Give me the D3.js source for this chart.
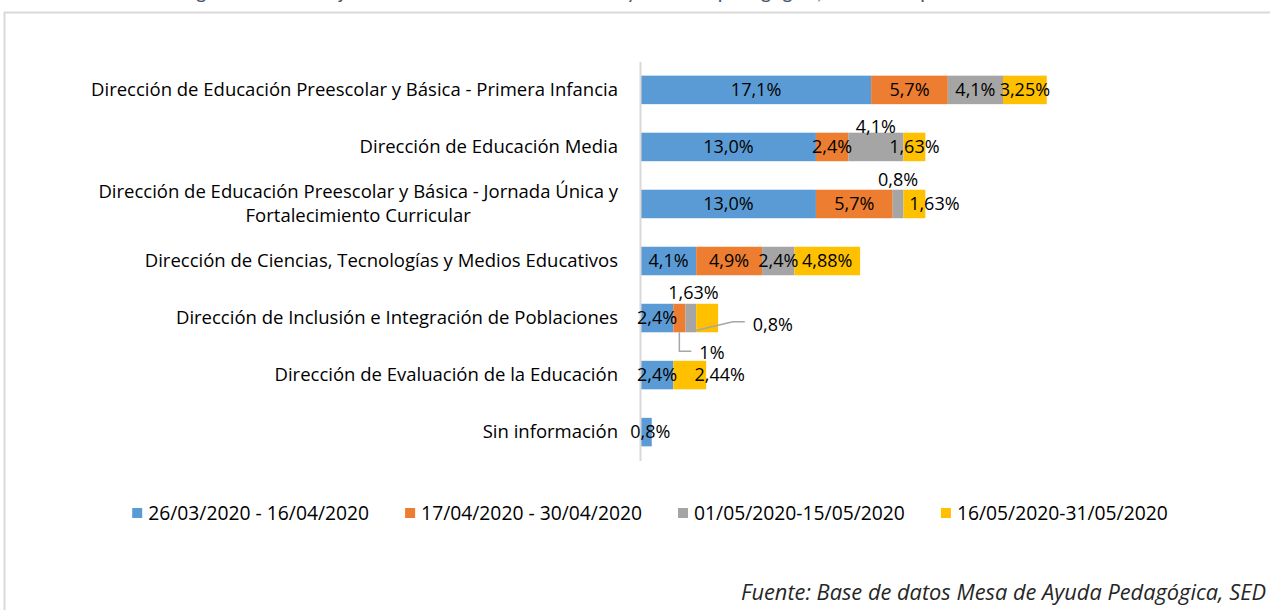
<!DOCTYPE html>
<html>
<head>
<meta charset="utf-8">
<script src="https://cdn.jsdelivr.net/npm/d3@7"></script>
<style>
  body { margin: 0; background: #fff; }
  svg { display: block; font-family: "Open Sans", Lato, sans-serif; }
</style>
</head>
<body>
<div id="chart"></div>
<script>
// categories, top to bottom
const categories = [
  "Dirección de Educación Preescolar y Básica - Primera Infancia",
  "Dirección de Educación Media",
  "Dirección de Educación Preescolar y Básica - Jornada Única y Fortalecimiento Curricular",
  "Dirección de Ciencias, Tecnologías y Medios Educativos",
  "Dirección de Inclusión e Integración de Poblaciones",
  "Dirección de Evaluación de la Educación",
  "Sin información"
];

const seriesNames = [
  "26/03/2020 - 16/04/2020",
  "17/04/2020 - 30/04/2020",
  "01/05/2020-15/05/2020",
  "16/05/2020-31/05/2020"
];

// values in %
const periodo1 = [17.1, 13.0, 13.0, 4.1, 2.4, 2.4, 0.8];
const periodo2 = [5.7, 2.4, 5.7, 4.9, 0.9, 0, 0];
const periodo3 = [4.1, 4.1, 0.8, 2.4, 0.8, 0, 0];
const periodo4 = [3.25, 1.63, 1.63, 4.88, 1.63, 2.44, 0];

// data label texts as printed on the chart
const etiquetas1 = ["17,1%", "13,0%", "13,0%", "4,1%", "2,4%", "2,4%", "0,8%"];
const etiquetas2 = ["5,7%", "2,4%", "5,7%", "4,9%", "1%", "", ""];
const etiquetas3 = ["4,1%", "4,1%", "0,8%", "2,4%", "0,8%", "", ""];
const etiquetas4 = ["3,25%", "1,63%", "1,63%", "4,88%", "1,63%", "2,44%", ""];

const fuente = "Fuente: Base de datos Mesa de Ayuda Pedagógica, SED";
const titulo = "Figura 5. Porcentaje de consultas a la mesa técnica y asesoría pedagógica, durante el periodo";

const colors = ["#5B9BD5", "#ED7D31", "#A5A5A5", "#FFC000"];
const allValues = [periodo1, periodo2, periodo3, periodo4];
const allLabels = [etiquetas1, etiquetas2, etiquetas3, etiquetas4];

const width = 1270, height = 610;
const keys = ["p1", "p2", "p3", "p4"];

const rows = categories.map((c, i) => ({
  cat: c, p1: periodo1[i], p2: periodo2[i], p3: periodo3[i], p4: periodo4[i]
}));
const stacked = d3.stack().keys(keys)(rows);

const svg = d3.select("#chart").append("svg")
  .attr("width", width)
  .attr("height", height);

// frame of the picture
svg.append("path")
  .attr("d", `M4.5,${height}V12.5H${width}`)
  .attr("fill", "none")
  .attr("stroke", "#d9d9d9")
  .attr("stroke-width", 2);

// caption above the frame (cut off by the page top, only descenders show)
svg.append("text")
  .attr("x", 180)
  .attr("y", -1)
  .attr("fill", "#44546A")
  .style("font-family", "Lato, sans-serif")
  .style("font-size", "20px")
  .text(titulo);

const x = d3.scaleLinear().domain([0, 35]).range([641, 1112]);
const y = d3.scaleBand().domain(categories)
  .range([61.4, 460.6])
  .paddingInner(0.5)
  .paddingOuter(0.25);

// bars
svg.append("g").selectAll("g")
  .data(stacked)
  .join("g")
  .attr("fill", (d, i) => colors[i])
  .selectAll("rect")
  .data(d => d)
  .join("rect")
  .attr("x", d => x(d[0]))
  .attr("y", d => y(d.data.cat))
  .attr("width", d => x(d[1]) - x(d[0]))
  .attr("height", y.bandwidth());

// category axis
const axisG = svg.append("g")
  .attr("transform", "translate(640,0)")
  .call(d3.axisLeft(y).tickSize(0).tickPadding(22));
axisG.select(".domain").attr("stroke", "#d9d9d9").attr("stroke-width", 2);
axisG.selectAll(".tick text")
  .attr("fill", "#000")
  .style("font-size", "18.5px")
  .style("font-family", "'Open Sans', Lato, sans-serif");

// wrap long category names (centered block, right aligned to the axis)
const maxLabelWidth = 580;
axisG.selectAll(".tick text").each(function(d) {
  const t = d3.select(this);
  const words = d.split(" ");
  let lines = [], line = [];
  t.text(null);
  const probe = t.append("tspan");
  words.forEach(w => {
    line.push(w);
    probe.text(line.join(" "));
    if (probe.node().getComputedTextLength() > maxLabelWidth && line.length > 1) {
      line.pop();
      lines.push(line.join(" "));
      line = [w];
    }
  });
  lines.push(line.join(" "));
  probe.remove();
  if (lines.length === 1) {
    t.text(d);
    return;
  }
  let blockW = 0;
  lines.forEach(l => {
    const s = t.append("tspan").text(l);
    blockW = Math.max(blockW, s.node().getComputedTextLength());
    s.remove();
  });
  const cx = -22 - blockW / 2;
  t.attr("text-anchor", "middle").attr("dy", null);
  const lh = 23.5;
  lines.forEach((l, k) => {
    t.append("tspan")
      .attr("x", cx)
      .attr("y", (k - (lines.length - 1) / 2) * lh)
      .attr("dy", "0.32em")
      .text(l);
  });
});

// data labels; a few are moved the way they were moved in the original
const tweaks = {
  "2-1": { dy: -20 },
  "2-2": { dy: -24.5 },
  "3-2": { dx: 20 },
  "3-4": { dx: -13.7, dy: -25 },
  "1-4": { leader: [[0, 14.3], [0, 33.3], [12, 33.3]], dx: 20, dy: 35, anchor: "start" },
  "2-4": { leader: [[2, 13.3], [42, 3.8], [54, 3.8]], dx: 62, dy: 7, anchor: "start" },
  "3-5": { dx: 30 },
  "0-6": { dx: 4 }
};

const labelG = svg.append("g").style("font-size", "18px").attr("fill", "#000");
stacked.forEach((serie, i) => {
  serie.forEach((d, j) => {
    const txt = allLabels[i][j];
    if (!txt || allValues[i][j] <= 0) return;
    const cx = (x(d[0]) + x(d[1])) / 2;
    const cy = y(d.data.cat) + y.bandwidth() / 2;
    const tw = tweaks[`${i}-${j}`] || {};
    if (tw.leader) {
      labelG.append("path")
        .attr("d", d3.line()(tw.leader.map(p => [cx + p[0], cy + p[1]])))
        .attr("fill", "none")
        .attr("stroke", "#A6A6A6")
        .attr("stroke-width", 1.5);
    }
    labelG.append("text")
      .attr("x", cx + (tw.dx || 0))
      .attr("y", cy + (tw.dy || 0))
      .attr("dy", "0.35em")
      .attr("text-anchor", tw.anchor || "middle")
      .text(txt);
  });
});

// legend
const legend = svg.append("g").style("font-size", "19.3px");
let lx = 0;
seriesNames.forEach((name, i) => {
  const g = legend.append("g").attr("transform", `translate(${lx},0)`);
  g.append("rect").attr("x", 0).attr("y", -5).attr("width", 10).attr("height", 10).attr("fill", colors[i]);
  const t = g.append("text").attr("x", 16).attr("dy", "0.35em").attr("fill", "#000").text(name);
  lx += 16 + t.node().getComputedTextLength() + 36;
});
const legendW = lx - 36;
legend.attr("transform", `translate(${650 - legendW / 2},513)`);

// source note
svg.append("text")
  .attr("x", 1266)
  .attr("y", 592)
  .attr("dy", "0.35em")
  .attr("text-anchor", "end")
  .attr("fill", "#262626")
  .style("font-style", "italic")
  .style("font-size", "21.8px")
  .text(fuente);
</script>
</body>
</html>
